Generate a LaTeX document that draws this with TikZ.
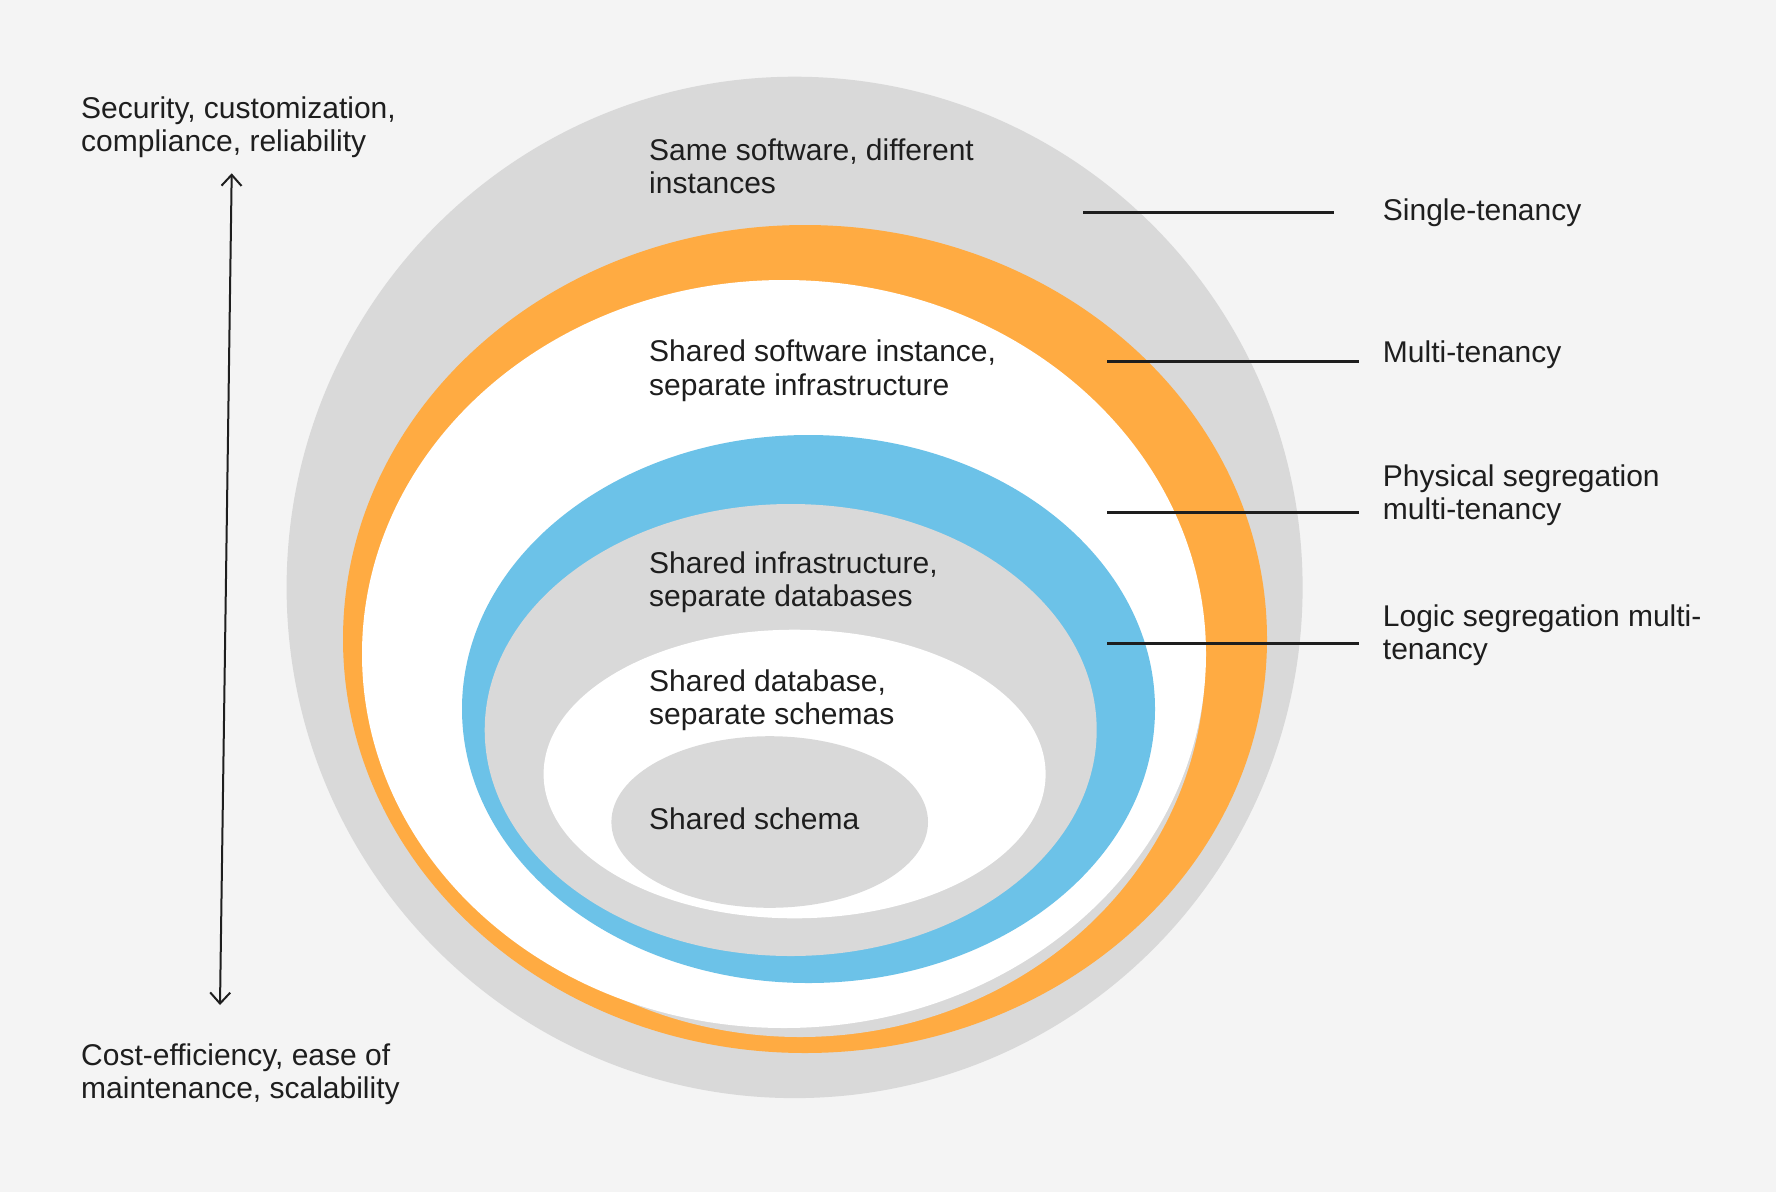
\documentclass[tikz,border=0pt]{standalone}
\usepackage{fontspec}
\setmainfont{Liberation Sans}
\usetikzlibrary{arrows.meta}
\definecolor{bg}{HTML}{F4F4F4}
\definecolor{lgray}{HTML}{D9D9D9}
\definecolor{orng}{HTML}{FFAB42}
\definecolor{skyb}{HTML}{6CC2E8}
\definecolor{txt}{HTML}{1E1E1E}
\begin{document}
\begin{tikzpicture}[x=1pt,y=-1pt,
  lbl/.style={anchor=base west, inner sep=0pt, align=left, font=\fontsize{30}{33.4}\selectfont, text=txt},
  leader/.style={draw=txt, line width=3pt},
  axisarrow/.style={draw=txt, line width=2pt, {Straight Barb[length=11pt,width=20pt,line width=2pt]}-{Straight Barb[length=11pt,width=20pt,line width=2pt]}}]
\useasboundingbox (0,0) rectangle (1776,1192);
\fill[bg] (0,0) rectangle (1776,1192);
% rings
\fill[lgray] (794.6,587.4) ellipse [x radius=508, y radius=510.7];
\fill[orng] (805,639) ellipse [x radius=462, y radius=414];
\fill[lgray] (800,662) ellipse [x radius=405, y radius=375];
\fill[white] (784,654) ellipse [x radius=422, y radius=374];
\fill[skyb] (808.5,709) ellipse [x radius=346.5, y radius=274];
\fill[lgray] (790.7,730) ellipse [x radius=306, y radius=226];
\fill[white] (794.6,774) ellipse [x radius=251, y radius=144.3];
\fill[lgray] (769.7,822) ellipse [x radius=158.3, y radius=85.8];
% inner labels (base = last line)
\node[lbl] (same) at (649,193.4) {Same software, different\\instances};
\node[lbl] (sharedsw) at (649,395.1) {Shared software instance,\\separate infrastructure};
\node[lbl] (sharedinfra) at (649,606.7) {Shared infrastructure,\\separate databases};
\node[lbl] (shareddb) at (649,724.9) {Shared database,\\separate schemas};
\node[lbl] (sharedschema) at (649,829) {Shared schema};
% left labels
\node[lbl] (top) at (81,151.7) {Security, customization,\\compliance, reliability};
\node[lbl] (bottom) at (81,1098.4) {Cost-efficiency, ease of\\maintenance, scalability};
\coordinate (atop) at (231.7,173.3);
\coordinate (abot) at (220,1005);
\draw[axisarrow] (abot) -- (atop);
% right labels
\node[lbl] (single) at (1382.7,220.7) {Single-tenancy};
\node[lbl] (multi) at (1382.7,362.7) {Multi-tenancy};
\node[lbl] (phys) at (1382.7,519.4) {Physical segregation\\multi-tenancy};
\node[lbl] (logic) at (1382.7,659.4) {Logic segregation multi-\\tenancy};
% leader lines
\coordinate (s1) at (1083,212.7); \coordinate (s2) at (1334,212.7);
\coordinate (m1) at (1107,361); \coordinate (m2) at (1359,361);
\coordinate (p1) at (1107,512); \coordinate (p2) at (1359,512);
\coordinate (l1) at (1107,643); \coordinate (l2) at (1359,643);
\draw[leader] (s1) -- (s2);
\draw[leader] (m1) -- (m2);
\draw[leader] (p1) -- (p2);
\draw[leader] (l1) -- (l2);
\end{tikzpicture}
\end{document}
